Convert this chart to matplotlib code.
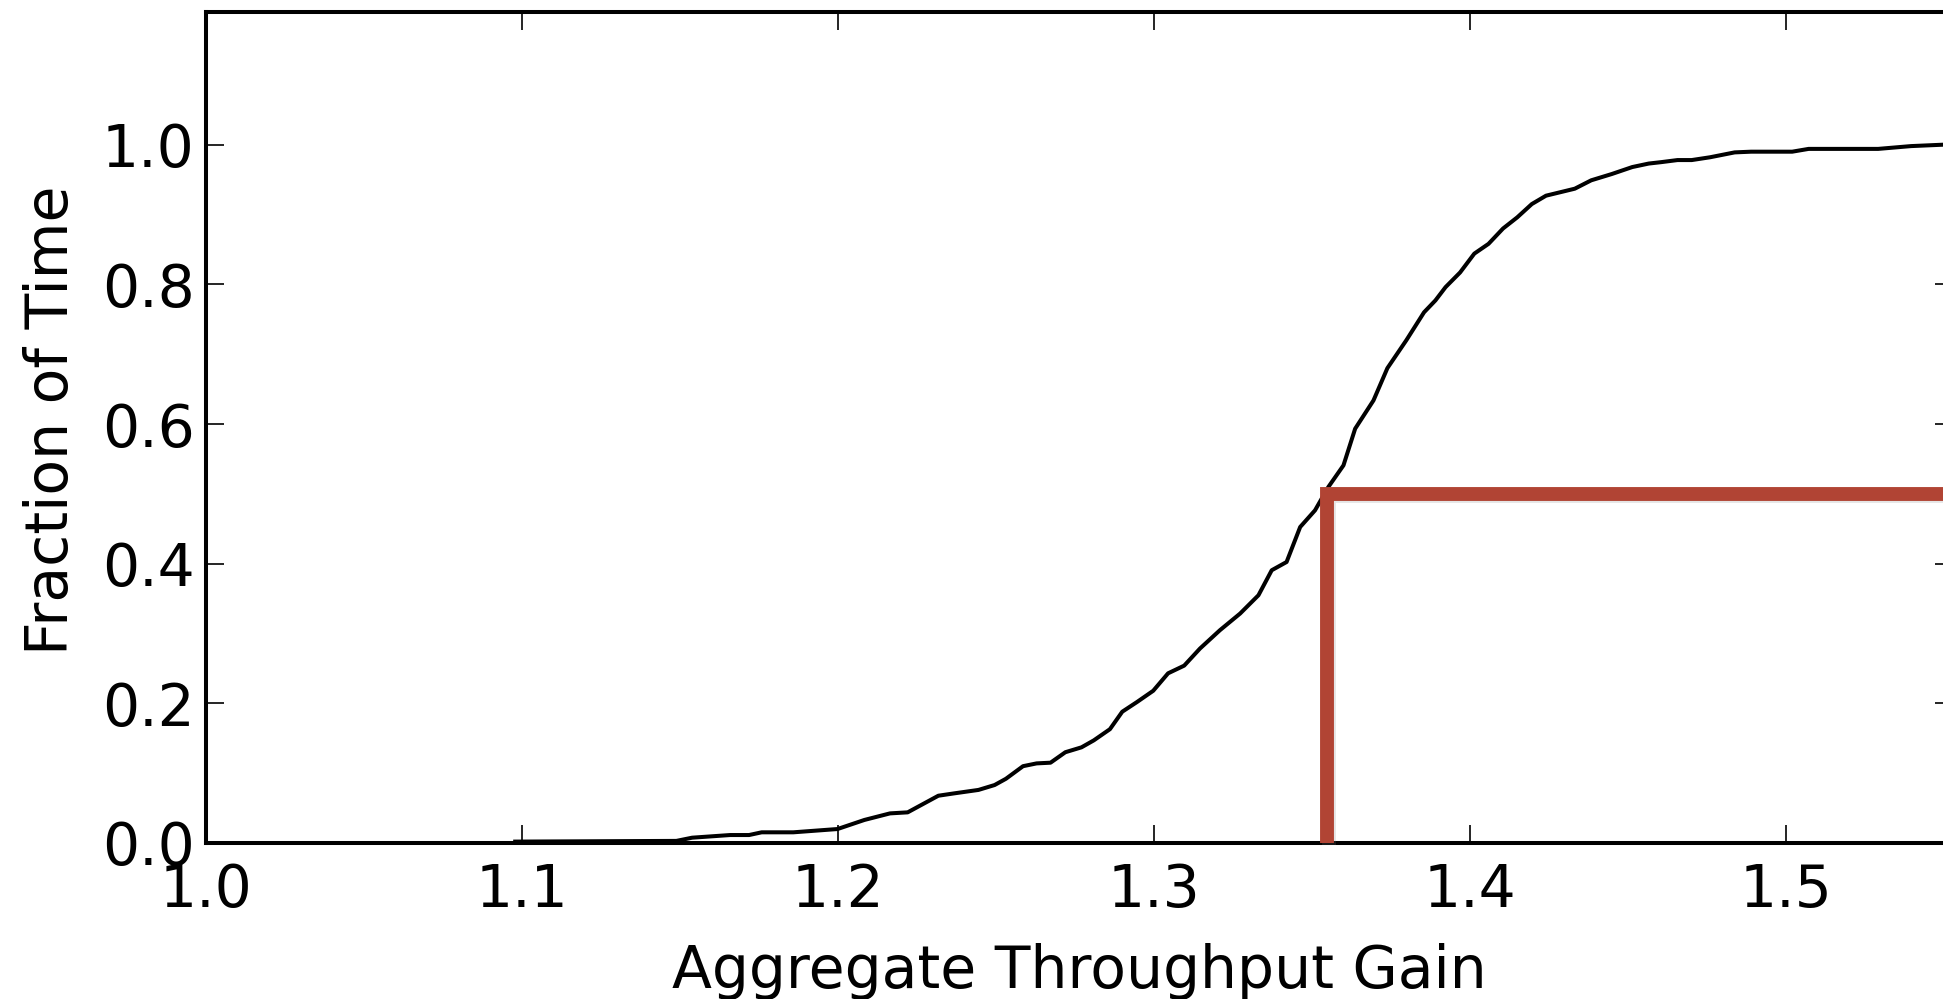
import numpy as np
import matplotlib
matplotlib.use('Agg')
import matplotlib.pyplot as plt
import matplotlib.patheffects as pe

# CDF of aggregate throughput gain
gain = [1.098, 1.149, 1.154, 1.166, 1.172, 1.176, 1.186, 1.200, 1.2085, 1.2166,
        1.2222, 1.2319, 1.2368, 1.2446, 1.2497, 1.2533, 1.2587, 1.2630, 1.2674, 1.2721,
        1.2772, 1.2811, 1.2862, 1.2901, 1.2948, 1.2999, 1.3046, 1.3097, 1.3147, 1.3210,
        1.3274, 1.3332, 1.3374, 1.3421, 1.3464, 1.3511, 1.3553, 1.3601, 1.3638, 1.3696,
        1.374, 1.380, 1.3856, 1.3892, 1.3924, 1.3970, 1.4015, 1.4060, 1.4106, 1.4151,
        1.4197, 1.4242, 1.4333, 1.4385, 1.4450, 1.4515, 1.4567, 1.4606, 1.4658, 1.4703,
        1.4761, 1.4839, 1.4891, 1.5021, 1.5073, 1.5293, 1.5397, 1.5498, 1.56]
frac = [0.002, 0.003, 0.0076, 0.0114, 0.0114, 0.0153, 0.0153, 0.020, 0.033, 0.0424,
        0.0439, 0.0677, 0.071, 0.076, 0.083, 0.092, 0.110, 0.114, 0.115, 0.130,
        0.137, 0.147, 0.163, 0.188, 0.202, 0.218, 0.243, 0.254, 0.2785, 0.3047,
        0.3286, 0.3548, 0.3906, 0.4024, 0.4525, 0.4764, 0.5097, 0.5408, 0.5933, 0.6338,
        0.68, 0.72, 0.76, 0.777, 0.796, 0.817, 0.844, 0.858, 0.880, 0.896,
        0.915, 0.927, 0.937, 0.949, 0.958, 0.968, 0.973, 0.975, 0.978, 0.978,
        0.982, 0.989, 0.990, 0.990, 0.994, 0.994, 0.998, 1.0, 1.0]

median_gain = 1.355
median_frac = 0.5

xticks = [1.0, 1.1, 1.2, 1.3, 1.4, 1.5]
yticks = [0.0, 0.2, 0.4, 0.6, 0.8, 1.0]
x_max = 1.553
y_max = 1.19

plt.rcParams['font.family'] = ['DejaVu Sans']

fig = plt.figure(figsize=(19.43, 9.99), dpi=100)
ax = fig.add_axes([0.10577, 0.15616, 0.8994, 0.8318])

ax.plot(gain, frac, color='black', linewidth=2.9)

# median marker
ax.plot([median_gain, median_gain, x_max + 0.05], [0.0, median_frac, median_frac],
        color='#b14434', linewidth=10, solid_joinstyle='miter', solid_capstyle='butt',
        clip_on=False, zorder=5,
        path_effects=[pe.SimpleLineShadow(offset=(1.5, -1.5), shadow_color='gray', alpha=0.2),
                      pe.Normal()])

ax.set_xlim(1.0, x_max)
ax.set_ylim(0.0, y_max)
ax.set_xticks(xticks)
ax.set_xticklabels(['{:.1f}'.format(t) for t in xticks])
ax.set_yticks(yticks)
ax.set_yticklabels(['{:.1f}'.format(t) for t in yticks])

for s in ax.spines.values():
    s.set_linewidth(2.9)
ax.tick_params(axis='both', which='major', direction='in', length=13, width=1.2,
               top=True, right=True, labelsize=42)
ax.tick_params(axis='x', pad=14)
ax.tick_params(axis='y', pad=8)

ax.set_xlabel('Aggregate Throughput Gain', fontsize=42)
ax.set_ylabel('Fraction of Time', fontsize=42)
ax.xaxis.set_label_coords(0.5, -0.1203)
ax.yaxis.set_label_coords(-0.072, 0.509)

fig.savefig('out.png', dpi=100)
